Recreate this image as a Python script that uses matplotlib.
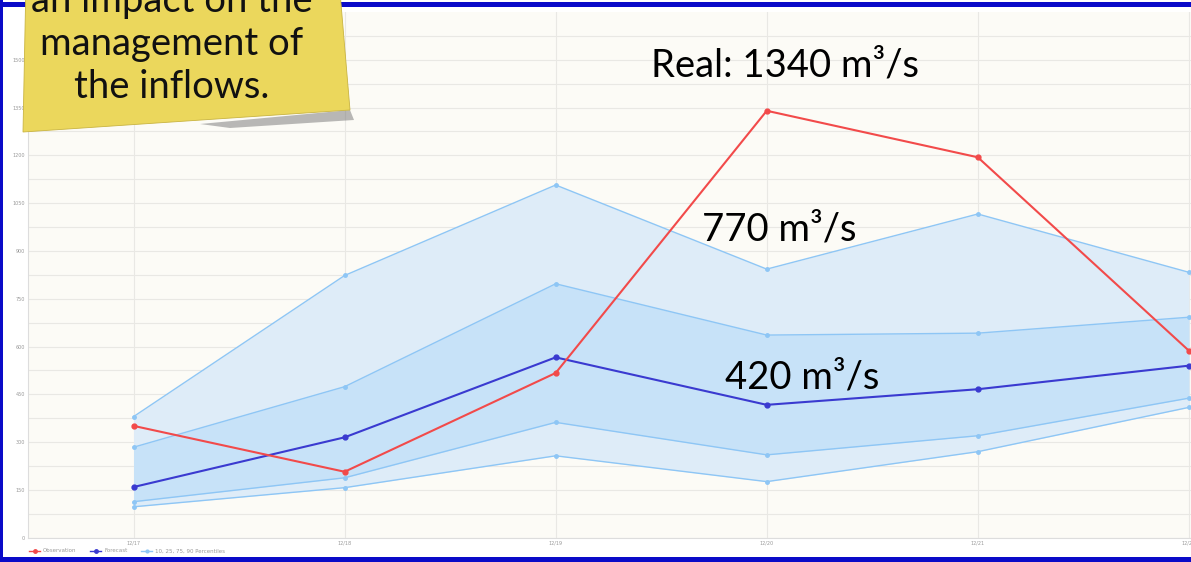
import matplotlib
matplotlib.use('Agg')
import matplotlib.pyplot as plt
from matplotlib.patches import Polygon, Rectangle
from matplotlib.lines import Line2D
import numpy as np

# Data
dates = ['12/17', '12/18', '12/19', '12/20', '12/21', '12/22']
observation = [351, 207, 517, 1340, 1194, 587]
forecast = [159, 315, 566, 417, 466, 540]
p10 = [97, 157, 257, 176, 270, 409]
p25 = [113, 188, 362, 260, 320, 438]
p75 = [284, 474, 797, 636, 642, 692]
p90 = [380, 823, 1107, 843, 1016, 833]
y_ticks = [0, 150, 300, 450, 600, 750, 900, 1050, 1200, 1350, 1500]

W, H = 1191, 562


def fx(x):
    return x / W


def fy(y):
    return 1 - y / H


fig = plt.figure(figsize=(W / 100, H / 100), dpi=100)
fig.patch.set_facecolor('white')

ax = fig.add_axes([fx(28), fy(537.7), 1 - fx(28), (537.7 - 12) / H])
ax.set_facecolor('#fcfbf6')
x = np.arange(len(dates))

ax.fill_between(x, p10, p90, color='#deecf8', lw=0, zorder=1)
ax.fill_between(x, p25, p75, color='#c7e2f8', lw=0, zorder=1)
for p in (p10, p25, p75, p90):
    ax.plot(x, p, color='#8ec6f5', lw=1, marker='o', ms=2.5, zorder=2)
ax.plot(x, forecast, color='#3a3ad0', lw=1.5, marker='o', ms=3.5, zorder=3)
ax.plot(x, observation, color='#f24a4a', lw=1.5, marker='o', ms=3.5, zorder=4)

ax.set_xlim(-0.5, 5.01)
ax.set_ylim(0, 1650)
ax.set_xticks(x)
ax.set_xticklabels(dates)
ax.set_yticks(y_ticks)
ax.set_yticks(np.arange(75, 1650, 150), minor=True)
ax.tick_params(axis='both', which='both', length=0, labelsize=3.5, labelcolor='#999999', pad=2)
ax.grid(True, which='both', color='#e9e8e4', lw=0.8, zorder=0)
ax.set_axisbelow(True)
for s in ('top', 'right'):
    ax.spines[s].set_visible(False)
for s in ('left', 'bottom'):
    ax.spines[s].set_color('#dddddd')
    ax.spines[s].set_linewidth(0.8)
ax.set_ylabel('Average inflow 24h (m3/s)', fontsize=4, color='#aaaaaa', labelpad=6)

# legend
handles = [
    Line2D([], [], color='#f24a4a', marker='o', ms=2.5, lw=1),
    Line2D([], [], color='#3a3ad0', marker='o', ms=2.5, lw=1),
    Line2D([], [], color='#8ec6f5', marker='o', ms=2, lw=1),
]
fig.legend(handles, ['Observation', 'Forecast', '10, 25, 75, 90 Percentiles'],
           loc='center left', bbox_to_anchor=(fx(24), fy(551)), ncol=3, frameon=False,
           fontsize=4, labelcolor='#999999', handlelength=2, columnspacing=2.5,
           handletextpad=0.5)

# annotations
big = dict(fontsize=27.5, family=['Lato', 'DejaVu Sans'], color='black')
fig.text(fx(785), fy(65), 'Real: 1340 m³/s', ha='center', va='center', **big)
fig.text(fx(779), fy(230), '770 m³/s', ha='center', va='center', **big)
fig.text(fx(802), fy(378), '420 m³/s', ha='center', va='center', **big)

# sticky note
shadow = Polygon([(fx(200), fy(124)), (fx(350), fy(110)), (fx(354), fy(120)), (fx(230), fy(128))],
                 closed=True, transform=fig.transFigure, facecolor='#666666', alpha=0.45,
                 edgecolor='none', zorder=10)
fig.add_artist(shadow)
note = Polygon([(fx(26), fy(-20)), (fx(339), fy(-20)), (fx(350), fy(110)), (fx(23), fy(132))],
               closed=True, transform=fig.transFigure, facecolor='#ebd75c',
               edgecolor='#c9b440', lw=0.6, zorder=11)
fig.add_artist(note)
note_font = dict(fontsize=27.5, family=['Lato', 'DejaVu Sans'], color='#111111', zorder=12,
                 ha='center', va='center')
fig.text(fx(172), fy(1), 'an impact on the', **note_font)
fig.text(fx(172), fy(44), 'management of', **note_font)
fig.text(fx(172), fy(87), 'the inflows.', **note_font)

# blue frame
frame = dict(transform=fig.transFigure, facecolor='#0a0ac8', edgecolor='none', zorder=9)
fig.add_artist(Rectangle((0, fy(7)), 1, 5 / H, **frame))
fig.add_artist(Rectangle((0, 0), 1, 5 / H, **frame))
fig.add_artist(Rectangle((0, 0), 3 / W, 1, **frame))

fig.savefig('out.png', dpi=100)
